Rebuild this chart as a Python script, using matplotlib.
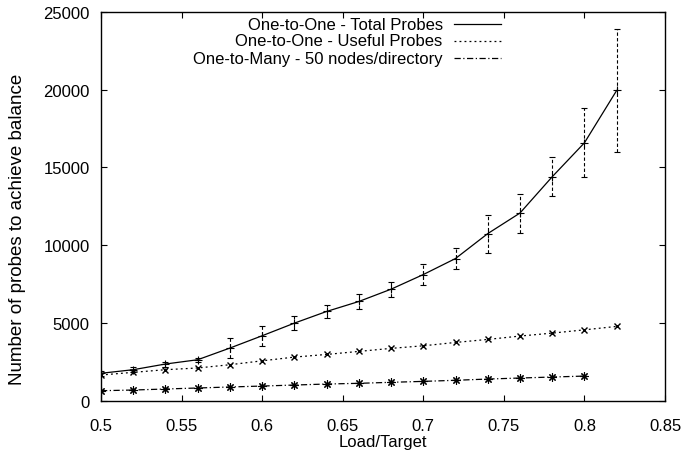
import matplotlib
matplotlib.use("Agg")
import matplotlib.pyplot as plt
from matplotlib.lines import Line2D

plt.rcParams['font.family'] = ['Liberation Sans', 'DejaVu Sans']
plt.rcParams['font.size'] = 12

load_total = [0.50, 0.52, 0.54, 0.56, 0.58, 0.60, 0.62, 0.64, 0.66, 0.68, 0.70, 0.72, 0.74, 0.76, 0.78, 0.80, 0.82]
total_probes = [1780, 2010, 2375, 2650, 3400, 4190, 5000, 5750, 6390, 7180, 8120, 9150, 10750, 12070, 14400, 16580, 19940]
total_err = [150, 160, 160, 130, 670, 640, 450, 435, 480, 490, 685, 705, 1220, 1250, 1250, 2210, 3970]

load_useful = [0.50, 0.52, 0.54, 0.56, 0.58, 0.60, 0.62, 0.64, 0.66, 0.68, 0.70, 0.72, 0.74, 0.76, 0.78, 0.80, 0.82]
useful_probes = [1670, 1840, 2010, 2120, 2330, 2580, 2820, 2990, 3185, 3380, 3545, 3760, 3955, 4170, 4360, 4570, 4790]

load_many = [0.50, 0.52, 0.54, 0.56, 0.58, 0.60, 0.62, 0.64, 0.66, 0.68, 0.70, 0.72, 0.74, 0.76, 0.78, 0.80]
many_probes = [660, 705, 770, 835, 900, 960, 1025, 1090, 1135, 1200, 1260, 1330, 1410, 1475, 1540, 1600]

labels = ["One-to-One - Total Probes", "One-to-One - Useful Probes", "One-to-Many - 50 nodes/directory"]
xticks = [0.5, 0.55, 0.6, 0.65, 0.7, 0.75, 0.8, 0.85]
yticks = [0, 5000, 10000, 15000, 20000, 25000]

W, H = 693, 452
fig = plt.figure(figsize=(W / 100, H / 100), dpi=100)
ax_left, ax_right, ax_top, ax_bot = 101, 665, 12.7, 402
ax = fig.add_axes([ax_left / W, 1 - ax_bot / H, (ax_right - ax_left) / W, (ax_bot - ax_top) / H])

lw = 0.9
styles = ['-', (0, (1.5, 2.5)), (0, (5, 2, 1, 2))]
eb = ax.errorbar(load_total, total_probes, yerr=total_err, fmt='none', ecolor='black',
                 elinewidth=0.8, capsize=2.5, capthick=0.8)
for lc in eb[2]:
    lc.set_linestyle((0, (3, 2)))
ax.plot(load_total, total_probes, color='black', lw=lw, ls=styles[0], marker='+', ms=6, mew=0.8)
ax.plot(load_useful, useful_probes, color='black', lw=lw, ls=styles[1], marker='x', ms=4.8, mew=1.0)
ax.plot(load_many, many_probes, color='black', lw=lw, ls=styles[2], marker=(8, 2, 0), ms=6, mew=0.8)

ax.set_xlim(0.5, 0.85)
ax.set_ylim(0, 25000)
ax.set_xticks(xticks)
ax.set_xticklabels([f"{t:g}" for t in xticks])
ax.set_yticks(yticks)
ax.tick_params(axis='both', direction='in', top=True, right=True, length=4, width=0.8)
ax.tick_params(axis='x', pad=12.5)
ax.tick_params(axis='y', pad=8)
for s in ax.spines.values():
    s.set_linewidth(1.0)

ax.set_xlabel("Load/Target", va='center')
ax.xaxis.set_label_coords(0.5, (ax_bot - 443) / (ax_bot - ax_top))
ax.set_ylabel("Number of probes to achieve balance", fontsize=13.5, va='center')
ax.yaxis.set_label_coords((18 - ax_left) / (ax_right - ax_left), (ax_bot - 229.5) / (ax_bot - ax_top))

# gnuplot-style key: right-aligned text, sample line at the right
row_y = [25.0, 41.7, 59.3]
for lab, ls, yy in zip(labels, styles, row_y):
    fig.text(442.7 / W, 1 - yy / H, lab, ha='right', va='center')
    fig.add_artist(Line2D([454 / W, 501 / W], [1 - yy / H, 1 - yy / H], color='black', lw=lw, ls=ls,
                          transform=fig.transFigure))

fig.savefig("out.png", dpi=100)
